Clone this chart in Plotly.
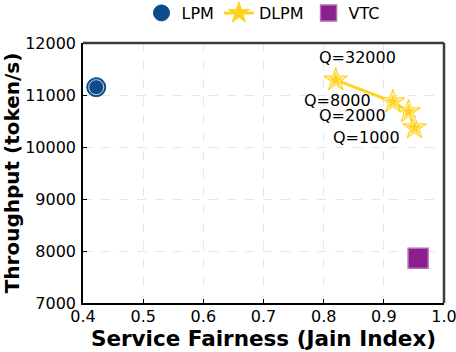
import plotly.graph_objects as go

# Data
lpm_fair = [0.422]
lpm_tput = [11150]

dlpm_fair = [0.820, 0.915, 0.941, 0.951]
dlpm_tput = [11290, 10870, 10680, 10370]
dlpm_labels = ['Q=32000', 'Q=8000', 'Q=2000', 'Q=1000']

vtc_fair = [0.957]
vtc_tput = [7860]

COLORS = {
    'lpm': '#0b4a8b',
    'dlpm': '#ffd21f',
    'vtc': '#8b1f8e',
}

FONT = 'DejaVu Sans'

fig = go.Figure()

# LPM
fig.add_trace(go.Scatter(
    x=lpm_fair, y=lpm_tput, mode='markers', name='LPM',
    marker=dict(symbol='circle', size=19, color=COLORS['lpm'],
                line=dict(color=COLORS['lpm'], width=1))
))
fig.add_trace(go.Scatter(
    x=lpm_fair, y=lpm_tput, mode='markers', showlegend=False, hoverinfo='skip',
    marker=dict(symbol='circle', size=15, color=COLORS['lpm'],
                line=dict(color='white', width=0.8))
))

# DLPM
fig.add_trace(go.Scatter(
    x=dlpm_fair, y=dlpm_tput, mode='lines+markers', name='DLPM',
    line=dict(color=COLORS['dlpm'], width=3),
    marker=dict(symbol='star', size=18, color=COLORS['dlpm'],
                line=dict(color=COLORS['dlpm'], width=1))
))
fig.add_trace(go.Scatter(
    x=dlpm_fair, y=dlpm_tput, mode='markers', showlegend=False, hoverinfo='skip',
    marker=dict(symbol='star', size=13, color=COLORS['dlpm'],
                line=dict(color='white', width=0.8))
))

# VTC
fig.add_trace(go.Scatter(
    x=vtc_fair, y=vtc_tput, mode='markers', name='VTC',
    marker=dict(symbol='square', size=20, color=COLORS['vtc'],
                line=dict(color='#b86bb9', width=1.5))
))

# Q labels
shifts = [(22, 22), (-55, 1), (-56, -4), (-48, -10)]
for xv, yv, lab, (dx, dy) in zip(dlpm_fair, dlpm_tput, dlpm_labels, shifts):
    fig.add_annotation(x=xv, y=yv, text=lab, showarrow=False,
                       xshift=dx, yshift=dy,
                       font=dict(family=FONT, size=16, color='black'))

axis_common = dict(
    showline=True, linecolor='black', linewidth=1.5, mirror=False,
    ticks='inside', ticklen=4, tickcolor='black',
    showgrid=True, gridcolor='#e6e6e6', griddash='dash', gridwidth=1,
    zeroline=False, automargin=False, ticklabeloverflow='allow',
    tickfont=dict(family=FONT, size=16, color='black'),
)

fig.update_xaxes(
    range=[0.4, 1.0], dtick=0.1, tick0=0.4, tickformat='.1f',
    title=dict(text='<b>Service Fairness (Jain Index)</b>', standoff=4,
               font=dict(family=FONT, size=21.5, color='black')),
    ticklabelstandoff=-2,
    **axis_common
)
fig.update_yaxes(
    range=[7000, 12000], dtick=1000, tickformat='d',
    title=dict(text='<b>Throughput (token/s)</b>', standoff=2,
               font=dict(family=FONT, size=20, color='black')),
    ticklabelstandoff=2,
    **axis_common
)

# top/right frame
fig.add_shape(type='line', xref='paper', yref='paper', x0=0, x1=1, y0=1, y1=1,
              line=dict(color='#3a3a3a', width=2.5), layer='above')
fig.add_shape(type='line', xref='paper', yref='paper', x0=1, x1=1, y0=0, y1=1,
              line=dict(color='#3a3a3a', width=2.5), layer='above')

fig.update_layout(
    width=456, height=352,
    margin=dict(l=83, r=12, t=43, b=49, autoexpand=False),
    template='plotly_white',
    plot_bgcolor='white', paper_bgcolor='white',
    font=dict(family=FONT, color='black'),
    legend=dict(orientation='h', x=0.5, xanchor='center', y=1.05, yanchor='bottom',
                font=dict(family=FONT, size=16, color='black'),
                itemwidth=30, tracegroupgap=0, bgcolor='rgba(0,0,0,0)'),
    showlegend=True,
)

# drop the browser's default body margin so the figure sits at the page corner
fig.write_html("out.html",
               config={'displayModeBar': False},
               post_script="document.body.style.margin='0';document.body.style.overflow='hidden';")
